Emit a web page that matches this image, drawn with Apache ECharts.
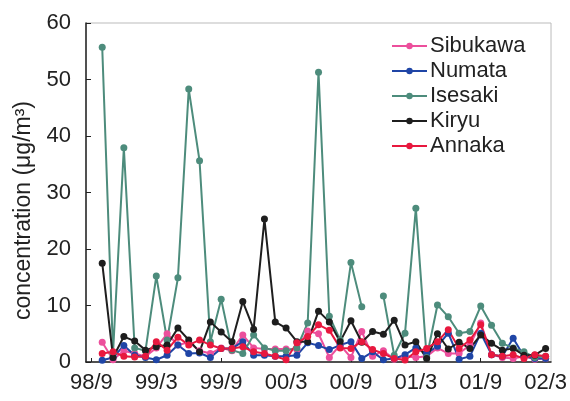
<!DOCTYPE html>
<html>
<head>
<meta charset="utf-8">
<script src="https://cdn.jsdelivr.net/npm/echarts@6/dist/echarts.min.js"></script>
<style>
html,body{margin:0;padding:0;background:#fff;}
#c{width:570px;height:401px;}
</style>
</head>
<body>
<div id="c"></div>
<script>
var months = ["98/9","98/10","98/11","98/12","99/1","99/2","99/3","99/4","99/5","99/6","99/7","99/8","99/9","99/10","99/11","99/12","00/1","00/2","00/3","00/4","00/5","00/6","00/7","00/8","00/9","00/10","00/11","00/12","01/1","01/2","01/3","01/4","01/5","01/6","01/7","01/8","01/9","01/10","01/11","01/12","02/1","02/2","02/3"];
var seriesNames = ["Sibukawa","Numata","Isesaki","Kiryu","Annaka"];
var sibukawa = [null,3.5,0.4,2.0,1.5,1.0,2.5,5.0,3.0,3.5,2.0,1.5,2.5,2.0,4.8,2.5,2.3,2.3,2.3,2.2,5.5,5.0,0.8,3.0,0.8,5.4,1.0,2.0,0.5,1.0,0.8,1.0,2.5,1.5,1.5,3.0,6.9,1.3,0.8,0.6,1.0,0.5,0.6];
var numata = [null,0.3,0.8,2.9,1.2,0.8,0.4,1.2,3.0,1.5,1.6,0.8,2.4,2.4,3.6,1.2,1.2,1.0,1.0,1.2,3.4,2.9,2.2,3.0,3.6,0.6,1.8,0.4,0.6,1.3,2.5,1.5,2.8,5.1,0.5,1.0,5.1,1.3,1.0,4.2,1.0,0.6,0.6];
var isesaki = [null,55.7,1.6,37.9,2.5,2.0,15.2,3.9,14.9,48.3,35.6,3.6,11.1,2.1,1.5,4.8,2.5,2.0,2.0,2.5,6.9,51.3,8.1,3.9,17.6,9.8,null,11.7,1.2,5.1,27.2,0.8,10.1,8.0,5.1,5.4,9.9,6.5,3.3,2.5,1.8,0.8,1.0];
var kiryu = [null,17.5,0.8,4.5,3.7,2.1,2.7,3.0,6.0,3.9,1.8,7.1,5.3,3.6,10.7,5.8,25.3,7.1,6.0,3.6,3.6,9.0,7.1,3.6,7.3,3.5,5.4,4.9,7.4,3.0,3.6,0.6,5.0,2.3,3.5,2.4,4.8,3.3,2.1,2.4,1.2,1.2,2.4];
var annaka = [null,1.5,1.8,1.0,0.9,1.0,3.6,2.1,4.4,3.0,3.9,3.0,2.4,2.4,2.7,1.8,1.5,1.0,0.4,3.4,4.5,6.6,5.6,2.5,2.4,3.6,2.2,1.5,0.6,0.35,1.8,2.4,3.6,5.7,2.4,3.9,6.6,1.3,1.0,1.3,0.6,1.3,1.0];
var yTicks = [0,10,20,30,40,50,60];

var colors = ["#ec4f9c","#1f45a6","#4d8c7c","#1e1e1e","#e8183e"];
var values = [sibukawa, numata, isesaki, kiryu, annaka];

var chart = echarts.init(document.getElementById('c'), null, {renderer:'canvas'});
var font = 'Liberation Sans, Arial, sans-serif';
chart.setOption({
  animation: false,
  backgroundColor: '#fff',
  color: colors,
  grid: {left: 86, right: 17, top: 23, bottom: 39, show: true, borderColor: '#bbb', borderWidth: 1, backgroundColor: 'transparent'},
  legend: {
    orient: 'vertical', left: 386, top: 30,
    itemWidth: 35, itemHeight: 8, itemGap: 3,
    textStyle: {fontSize: 22, color: '#222', fontFamily: font, padding: [0,0,0,-2]},
    data: seriesNames
  },
  xAxis: {
    type: 'category', data: months, boundaryGap: true,
    axisLine: {lineStyle: {color: '#222', width: 1.5}},
    axisTick: {show: true, inside: true, interval: 5, alignWithLabel: true, length: 4, lineStyle: {color: '#222'}},
    axisLabel: {interval: 5, fontSize: 22, color: '#222', fontFamily: font, margin: 10},
    splitLine: {show: false}
  },
  yAxis: {
    type: 'value', min: yTicks[0], max: yTicks[yTicks.length-1], interval: 10,
    name: 'concentration (μg/m³)', nameLocation: 'middle', nameGap: 46,
    nameTextStyle: {fontSize: 23, color: '#222', fontFamily: font, padding: [0, 36, 0, 0]},
    axisLine: {show: true, lineStyle: {color: '#222', width: 1.5}},
    axisTick: {show: true, inside: true, length: 5, lineStyle: {color: '#222'}},
    axisLabel: {fontSize: 22, color: '#222', fontFamily: font, margin: 15},
    splitLine: {show: false}
  },
  series: seriesNames.map(function(n, k){
    return {
      name: n, type: 'line', data: values[k], connectNulls: false,
      symbol: 'circle', symbolSize: 7, showSymbol: true,
      lineStyle: {width: 2, color: colors[k]},
      itemStyle: {color: colors[k]}
    };
  })
});
</script>
</body>
</html>
